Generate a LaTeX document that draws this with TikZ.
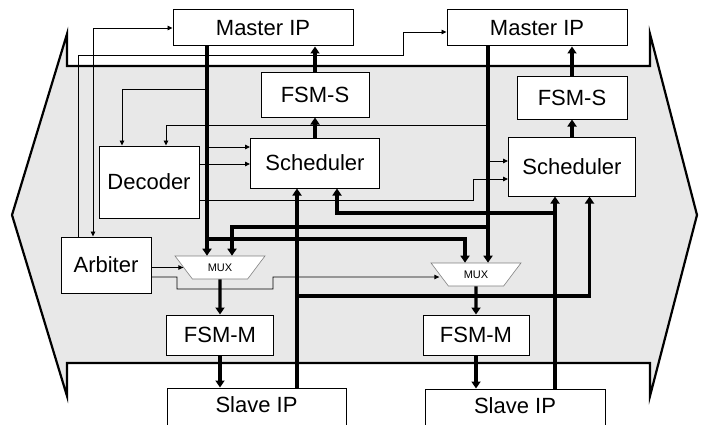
\documentclass[tikz,border=0pt]{standalone}
\usepackage{fontspec}
\setmainfont{Liberation Sans}
\usetikzlibrary{arrows.meta, shapes.geometric}
\definecolor{busgray}{RGB}{232,232,232}

\begin{document}
\begin{tikzpicture}[x=1pt, y=-1pt,
    >={Triangle[length=5pt, width=4.5pt]},
    blk/.style={draw, fill=white, line width=1pt, inner sep=0pt, font=\fontsize{22}{24}\selectfont},
    mux/.style={trapezium, trapezium left angle=135, trapezium right angle=135,
      trapezium stretches=true, draw=gray, fill=white, line width=0.6pt,
      minimum width=90pt, minimum height=23pt, inner sep=0pt, font=\fontsize{11}{12}\selectfont},
    bus/.style={line width=3.2pt, -{Triangle[length=7pt, width=9pt]}},
    wire/.style={line width=0.9pt, ->}]
  \useasboundingbox (0,0) rectangle (703,425);
  \draw[line width=2.2pt, fill=busgray] (67,66) -- (650,66) -- (650,34) -- (697,215) -- (650,396)
    -- (650,363) -- (67,363) -- (67,396) -- (12,215) -- (67,34) -- cycle;

  \node[blk, minimum width=180pt, minimum height=36pt] (m1) at (263,28) {Master IP};
  \node[blk, minimum width=180pt, minimum height=36pt] (m2) at (537,28) {Master IP};
  \node[blk, minimum width=108pt, minimum height=44pt] (fs1) at (315,95) {FSM-S};
  \node[blk, minimum width=110pt, minimum height=42pt] (fs2) at (572,98) {FSM-S};
  \node[blk, minimum width=129pt, minimum height=50pt] (sch1) at (315,163) {Scheduler};
  \node[blk, minimum width=127pt, minimum height=59pt] (sch2) at (572,166.5) {Scheduler};
  \node[blk, minimum width=100pt, minimum height=72pt] (dec) at (149,182) {Decoder};
  \node[blk, minimum width=90pt, minimum height=56pt] (arb) at (106,265) {Arbiter};
  \node[mux] (mux1) at (220,267.5) {MUX};
  \node[mux] (mux2) at (476,274.5) {MUX};
  \node[blk, minimum width=107pt, minimum height=40pt] (fm1) at (220,335) {FSM-M};
  \node[blk, minimum width=106pt, minimum height=40pt] (fm2) at (476,335) {FSM-M};
  \node[blk, minimum width=179pt, minimum height=44pt, text depth=10pt] (sl1) at (256.5,410) {Slave IP};
  \node[blk, minimum width=180pt, minimum height=44pt, text depth=10pt] (sl2) at (515,411) {Slave IP};

  \coordinate (a1) at ([xshift=-13pt]mux1.north);
  \coordinate (b1) at ([xshift=12pt]mux1.north);
  \coordinate (a2) at ([xshift=-11pt]mux2.north);
  \coordinate (b2) at ([xshift=12pt]mux2.north);
  \coordinate (ja) at (207,239);
  \coordinate (jb) at (488,227);
  \coordinate (r1) at (297,296);
  \coordinate (r2) at (555,213);
  \coordinate (c1) at (207,89);
  \coordinate (c2) at (488,125);
  \coordinate (c3) at (207,147);
  \coordinate (c4) at ([yshift=18pt]dec.east);
  \coordinate (c5) at ([yshift=-18pt]dec.east);
  \coordinate (c6) at ([yshift=-12.5pt]sch2.west);
  \coordinate (c7) at (488,161);

  \draw[bus] (m1.south -| a1) -- (a1);
  \draw[bus] (m2.south -| b2) -- (b2);
  \draw[bus] (ja) -| (a2);
  \draw[bus] (jb) -| (b1);
  \draw[bus] (sl1.north -| r1) -- (sch1.south -| r1);
  \draw[bus] (r1) -| ([xshift=17.5pt]sch2.south);
  \draw[bus] (sl2.north -| r2) -- (sch2.south -| r2);
  \draw[bus] (r2) -| ([xshift=22pt]sch1.south);
  \draw[bus] (sch1.north) -- (fs1.south);
  \draw[bus] (fs1.north) -- (fs1.north |- m1.south);
  \draw[bus] (sch2.north) -- (sch2.north |- fs2.south);
  \draw[bus] (fs2.north) -- (fs2.north |- m2.south);
  \draw[bus] (mux1.south) -- (fm1.north);
  \draw[bus] (fm1.south) -- (fm1.south |- sl1.north);
  \draw[bus] (mux2.south) -- (fm2.north);
  \draw[bus] (fm2.south) -- (fm2.south |- sl2.north);

  \draw[wire, <->] ([xshift=-13pt]arb.north) |- (m1.west);
  \draw[wire] ([xshift=-28pt]arb.north) |- (403,55) |- ([yshift=-4pt]m2.west);
  \draw[wire] (c1) -| ([xshift=-27pt]dec.north);
  \draw[wire] (c2) -| ([xshift=17pt]dec.north);
  \draw[wire] (c3) -- (c3 -| sch1.west);
  \draw[wire] (c4) -- (c4 -| sch1.west);
  \draw[wire] (c5) -| ([xshift=-35pt]c6) -- (c6);
  \draw[wire] (c7) -- (c7 -| sch2.west);
  \draw[wire] (arb.east |- mux1.west) -- (mux1.west);
  \draw[wire] ([yshift=-12pt]arb.east) -| (177,289) -| (273,277) -- ([yshift=-2.5pt]mux2.west);
\end{tikzpicture}
\end{document}
